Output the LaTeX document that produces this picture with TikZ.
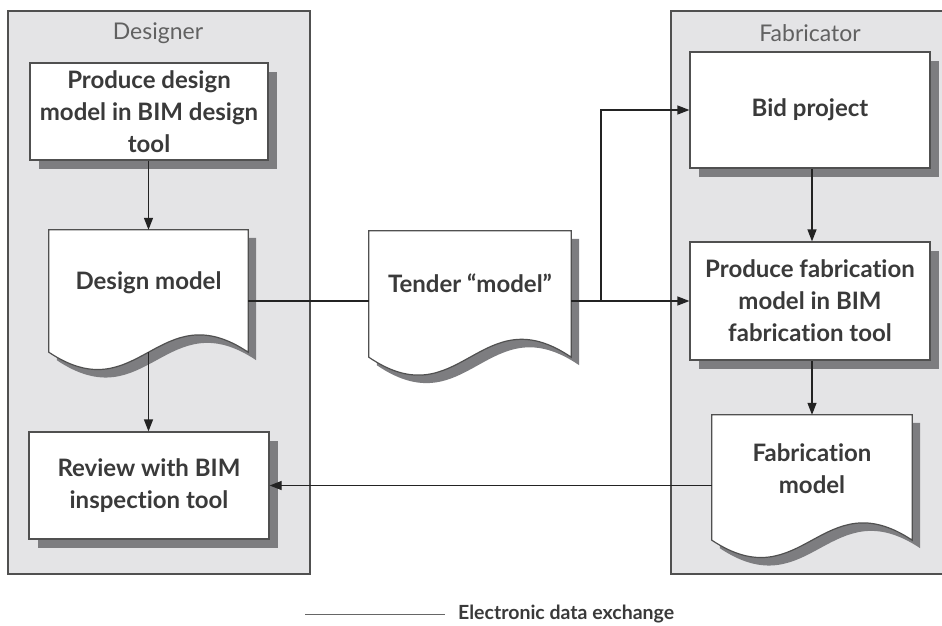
\documentclass[tikz,border=0pt]{standalone}
\usepackage{fontspec}
\setmainfont{Lato}[Ligatures={NoCommon}]
\usetikzlibrary{arrows.meta,shadows,calc}
\definecolor{panelc}{RGB}{228,228,230}
\definecolor{edgec}{RGB}{80,80,80}
\definecolor{shadowc}{RGB}{125,125,128}
\definecolor{txtc}{RGB}{58,58,58}
\definecolor{linec}{RGB}{35,35,35}

\tikzset{
  panel/.style={fill=panelc, draw=edgec, line width=1.3pt, inner sep=0},
  paneltitle/.style={text=black!62, font=\fontsize{23}{26}\selectfont},
  boxnode/.style={draw=edgec, fill=white, line width=1.2pt, inner sep=0,
    align=center, text=txtc, font=\fontsize{24}{32}\selectfont\bfseries,
    drop shadow={shadow xshift=9pt, shadow yshift=-9pt, fill=shadowc, opacity=1}},
  docframe/.style={draw=none, inner sep=0},
  doctext/.style={align=center, text=txtc, font=\fontsize{24}{32}\selectfont\bfseries, inner sep=0},
  conn/.style={draw=linec, line width=1.2pt},
  arr/.style={conn, -{Triangle[length=12pt,width=9pt]}},
  legendtext/.style={text=txtc, font=\fontsize{19.5}{22}\selectfont\bfseries, inner sep=0}
}

\newcommand\docshape[2]{%
  \fill[shadowc, transform canvas={xshift=8pt,yshift=-8pt}]
    (#1.north west) -- (#1.north east) -- (#1.south east)
    .. controls ($(#1.south east)!0.45!(#1.south west)+(0,-#2)$)
           and ($(#1.south east)!0.55!(#1.south west)+(0,#2)$) .. (#1.south west) -- cycle;
  \filldraw[fill=white, draw=edgec, line width=1.2pt]
    (#1.north west) -- (#1.north east) -- (#1.south east)
    .. controls ($(#1.south east)!0.45!(#1.south west)+(0,-#2)$)
           and ($(#1.south east)!0.55!(#1.south west)+(0,#2)$) .. (#1.south west) -- cycle;
}

\begin{document}
\begin{tikzpicture}[x=1pt,y=-1pt]
\useasboundingbox (0,0) rectangle (942,625);
\fill[white] (0,0) rectangle (942,625);

% panels
\node[panel, minimum width=302pt, minimum height=563pt] (designer) at (159,292.5) {};
\node[panel, minimum width=290pt, minimum height=563pt] (fabricator) at (816,292.5) {};
\node[paneltitle] (designer-t) at (158,33) {Designer};
\node[paneltitle] (fabricator-t) at (810,33) {Fabricator};

% process boxes
\node[boxnode, minimum width=238pt, minimum height=97pt] (produce) at (149,111.5)
  {Produce design\\model in BIM design\\tool};
\node[boxnode, minimum width=240pt, minimum height=107pt] (review) at (149,485.5)
  {Review with BIM\\inspection tool};
\node[boxnode, minimum width=240pt, minimum height=116pt] (bid) at (810,110)
  {Bid project};
\node[boxnode, minimum width=240pt, minimum height=118pt] (prodfab) at (810,301)
  {Produce fabrication\\model in BIM\\fabrication tool};

% document shapes
\node[docframe, minimum width=199pt, minimum height=122pt] (dm) at (148.5,291) {};
\docshape{dm}{60}
\node[docframe, minimum width=202pt, minimum height=126pt] (tender) at (470,294) {};
\docshape{tender}{62}
\node[docframe, minimum width=200pt, minimum height=125pt] (fm) at (812,477.5) {};
\docshape{fm}{60}

\node[doctext] (dm-t) at (148.5,283) {Design model};
\node[doctext] (tender-t) at (470,283) {Tender “model”};
\node[doctext] (fm-t) at (812,469) {Fabrication\\model};

% connectors
\coordinate (branch) at (601,301);
\draw[arr] (produce.south -| dm.north) -- (dm.north);
\draw[arr] (dm.south) -- (review.north -| dm.south);
\draw[conn] (dm.east |- prodfab.west) -- (tender.west |- prodfab.west);
\draw[arr] (tender.east |- prodfab.west) -- (prodfab.west);
\draw[arr] (branch) |- (bid.west);
\draw[arr] (bid.south -| fm.north) -- (prodfab.north -| fm.north);
\draw[arr] (prodfab.south -| fm.north) -- (fm.north);
\draw[arr] (fm.west |- review.east) -- (review.east);

% legend
\coordinate (lg-a) at (305,614);
\coordinate (lg-b) at (445,614);
\draw[conn, line width=1pt, draw=black!60] (lg-a) -- (lg-b);
\node[legendtext, anchor=west] (lg-t) at (458,614) {Electronic data exchange};
\end{tikzpicture}
\end{document}
